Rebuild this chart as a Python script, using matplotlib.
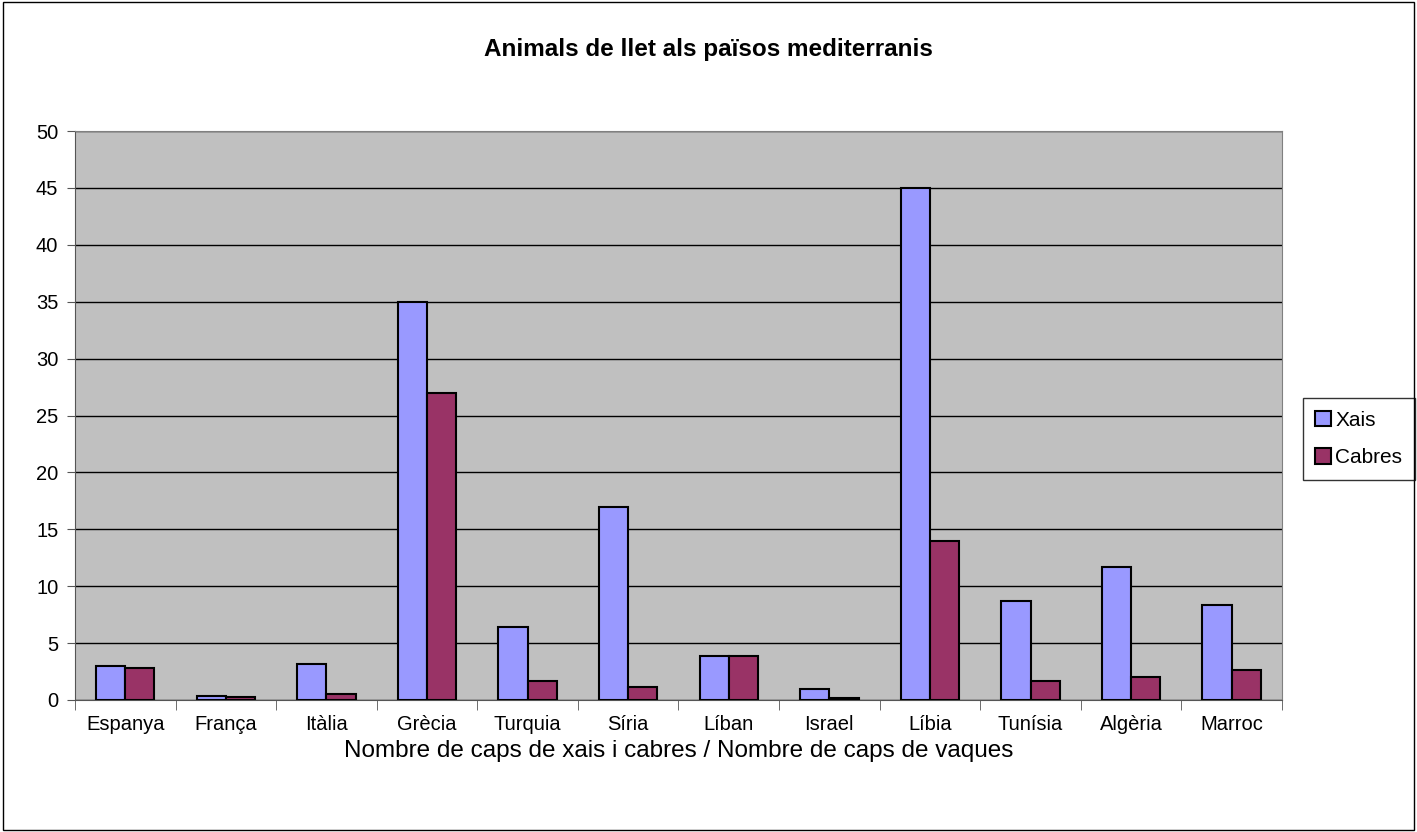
import numpy as np
from matplotlib import pyplot as plt
from matplotlib.patches import Rectangle

countries = ["Espanya", "França", "Itàlia", "Grècia", "Turquia", "Síria",
             "Líban", "Israel", "Líbia", "Tunísia", "Algèria", "Marroc"]
xais = [3.0, 0.32, 3.15, 35, 6.4, 17, 3.9, 0.94, 45, 8.7, 11.7, 8.35]
cabres = [2.8, 0.3, 0.5, 27, 1.7, 1.1, 3.9, 0.2, 14, 1.7, 2.05, 2.6]

plt.rcParams['font.family'] = ['Liberation Sans', 'DejaVu Sans']

fig = plt.figure(figsize=(14.17, 8.32), dpi=100)
fig.patches.append(Rectangle((0.002, 0.002), 0.996, 0.996, transform=fig.transFigure,
                             fill=False, edgecolor='black', linewidth=1))
ax = fig.add_axes([0.0529, 0.1587, 0.8518, 0.6838])
ax.set_facecolor('#C0C0C0')

x = np.arange(len(countries))
w = 0.29
ax.bar(x - w/2, xais, w, color='#9999FF', edgecolor='black', linewidth=1.5, label='Xais', zorder=3)
ax.bar(x + w/2, cabres, w, color='#993366', edgecolor='black', linewidth=1.5, label='Cabres', zorder=3)

ax.set_xlim(-0.5, len(countries) - 0.5)
ax.set_ylim(0, 50)
ax.set_yticks(range(0, 51, 5))
ax.yaxis.grid(True, color='black', linewidth=1, zorder=1)
ax.set_axisbelow(True)

ax.set_xticks(x)
ax.set_xticklabels(countries, fontsize=14.5)
ax.tick_params(axis='x', length=0, pad=11)
ax.set_xticks(np.arange(-0.5, len(countries), 1), minor=True)
ax.tick_params(axis='x', which='minor', length=7, color='#555555', direction='out')
ax.tick_params(axis='y', labelsize=14.5, length=6, direction='out', color='#555555', pad=6)

for s in ['top', 'right']:
    ax.spines[s].set_color('#808080')
for s in ['left', 'bottom']:
    ax.spines[s].set_color('#555555')

ax.set_xlabel("Nombre de caps de xais i cabres / Nombre de caps de vaques", fontsize=17.5, labelpad=4)
fig.text(0.5, 0.94, "Animals de llet als països mediterranis", ha='center', va='center',
         fontsize=17.5, fontweight='bold')

leg = ax.legend(loc='center left', bbox_to_anchor=(0.9195, 0.4725), bbox_transform=fig.transFigure,
                fontsize=15, frameon=True, fancybox=False, edgecolor='black',
                handlelength=0.75, handleheight=0.75, handletextpad=0.2, borderpad=0.6,
                labelspacing=0.9, borderaxespad=0)
leg.get_frame().set_linewidth(1)

fig.savefig("out.png", dpi=100)
